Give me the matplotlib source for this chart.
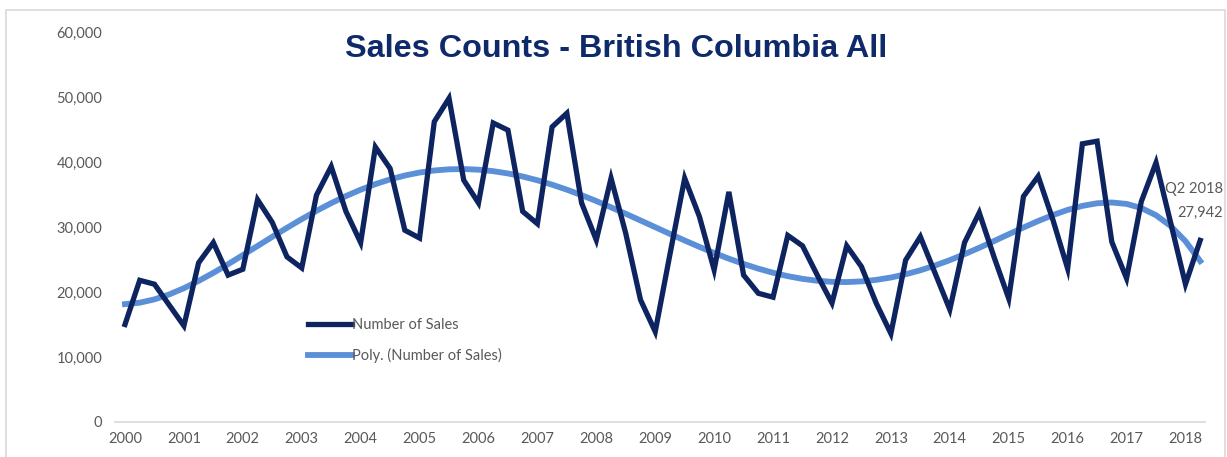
import numpy as np
import matplotlib
matplotlib.use("Agg")
import matplotlib.pyplot as plt
from matplotlib.ticker import FuncFormatter
from matplotlib.patches import Rectangle

# Quarterly sales counts, 2000 Q1 through 2018 Q2
years = list(range(2000, 2019))
sales = [
    15000, 21800, 21200, 18000,   # 2000
    14800, 24500, 27600, 22600,   # 2001
    23500, 34200, 30700, 25400,   # 2002
    23700, 34900, 39300, 32400,   # 2003
    27600, 42300, 39000, 29500,   # 2004
    28300, 46200, 49800, 37200,   # 2005
    33700, 46000, 44900, 32400,   # 2006
    30500, 45400, 47500, 33700,   # 2007
    28000, 37500, 29000, 18800,   # 2008
    13900, 25800, 37500, 31600,   # 2009
    23400, 35400, 22600, 19800,   # 2010
    19200, 28700, 27100, 22600,   # 2011
    18300, 27100, 23900, 18300,   # 2012
    13600, 24900, 28500, 22900,   # 2013
    17300, 27600, 32200, 25400,   # 2014
    19000, 34700, 37800, 31100,   # 2015
    23600, 42800, 43200, 27700,   # 2016
    22100, 33900, 39900, 30600,   # 2017
    21200, 27942,                 # 2018
]
last_label = "Q2 2018"

n = len(sales)
x = np.array([2000 + i * 0.25 for i in range(n)])
y = np.array(sales, dtype=float)

# Sixth-order polynomial trendline of the sales series
t = np.arange(n, dtype=float)
coef = np.polyfit(t, y, 6)
trend = np.polyval(coef, t)

navy = "#0d2461"
light_blue = "#5b8fd8"
gray_text = "#595959"

fig = plt.figure(figsize=(12.27, 4.57), dpi=100)
fig.patches.append(Rectangle((0.005, -0.1), 0.993, 1.078, transform=fig.transFigure,
                             fill=False, edgecolor="#d9d9d9", linewidth=1.2))

ax = fig.add_axes([0.0937, 0.0766, 0.8883, 0.8534])
ax.plot(x, y, color=navy, linewidth=3.8, solid_joinstyle="miter",
        label="Number of Sales", zorder=3)
ax.plot(x, trend, color=light_blue, linewidth=4.2,
        label="Poly. (Number of Sales)", zorder=2)

ax.set_ylim(0, 60000)
ax.set_xlim(2000 - 0.17, 2000 + (n - 1) * 0.25 + 0.08)
ax.set_yticks(range(0, 60001, 10000))
ax.set_xticks(years)
ax.yaxis.set_major_formatter(FuncFormatter(lambda v, p: f"{int(v):,}"))

for side in ("top", "right", "left"):
    ax.spines[side].set_visible(False)
ax.spines["bottom"].set_color("#d9d9d9")
ax.spines["bottom"].set_linewidth(1.2)
ax.tick_params(axis="both", length=0, labelsize=10.5, labelcolor=gray_text)
ax.tick_params(axis="y", pad=9)
ax.tick_params(axis="x", pad=7)
for lab in ax.get_xticklabels() + ax.get_yticklabels():
    lab.set_fontfamily("Lato")

fig.text(0.502, 0.875, "Sales Counts - British Columbia All", ha="center", va="baseline",
         fontsize=23.3, fontweight="bold", color="#0e2a6b", family="Liberation Sans")

ax.annotate(f"{last_label}\n{sales[-1]:,}", xy=(x[-1], y[-1]),
            xytext=(1223 / 1227, 1 - 182 / 457), textcoords="figure fraction",
            ha="right", va="top", fontsize=10.5, color=gray_text, family="Lato",
            linespacing=1.9)

leg = ax.legend(loc="upper left", bbox_to_anchor=(0.165, 0.30), frameon=False,
                prop={"family": "Lato", "size": 10.5}, handlelength=3.0,
                handletextpad=0.0, labelspacing=1.1, labelcolor=gray_text)

fig.savefig("out.png", dpi=100)
